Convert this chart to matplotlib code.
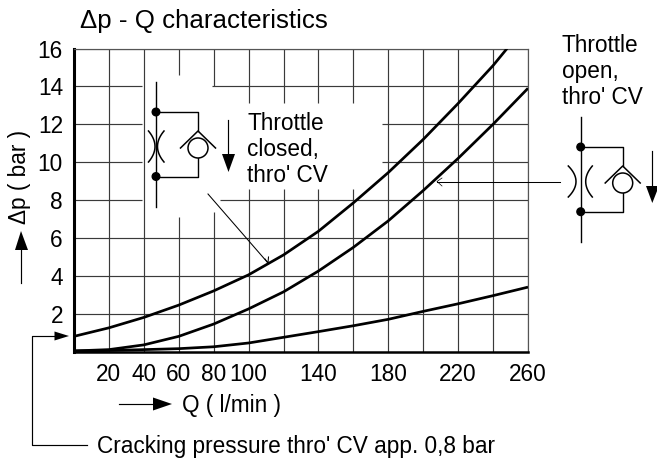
import matplotlib
matplotlib.use("Agg")
import matplotlib.pyplot as plt
from matplotlib.patches import Polygon, Circle
from matplotlib.lines import Line2D
from matplotlib.transforms import Affine2D

plt.rcParams['font.family'] = ['Liberation Sans', 'DejaVu Sans']
FS = 16.3

q_top = [0, 20, 40, 60, 80, 100, 120, 140, 160, 180, 200, 220, 240, 248]
dp_top = [0.8, 1.25, 1.8, 2.45, 3.2, 4.05, 5.1, 6.35, 7.85, 9.45, 11.2, 13.1, 15.1, 16.0]
q_mid = [0, 20, 40, 60, 80, 100, 120, 140, 160, 180, 200, 220, 240, 260]
dp_mid = [0.03, 0.1, 0.35, 0.8, 1.45, 2.25, 3.15, 4.25, 5.5, 6.9, 8.5, 10.2, 12.0, 13.9]
q_low = [0, 20, 40, 60, 80, 100, 120, 140, 160, 180, 200, 220, 240, 260]
dp_low = [0.03, 0.05, 0.1, 0.15, 0.25, 0.45, 0.75, 1.05, 1.36, 1.7, 2.12, 2.52, 2.95, 3.4]
x_ticks = [20, 40, 60, 80, 100, 140, 180, 220, 260]
y_ticks = [2, 4, 6, 8, 10, 12, 14, 16]
grid_x = list(range(20, 261, 20))
grid_y = list(range(2, 17, 2))
# gaps in the grid left for the inset symbols
v_gaps = {60: (7.1, 14.6), 80: (7.37, 14.0), 100: (8.58, 13.1), 120: (8.58, 13.1), 140: (8.58, 13.1), 160: (8.58, 13.1)}
h_gaps = {14: (39, 79), 12: (39, 176.5), 10: (39, 176.5), 8: (39, 83.7)}

fig = plt.figure(figsize=(6.57, 4.62), dpi=100)
ax = fig.add_axes([74/657, (462-351.5)/462, 454/657, 303/462])
ax.set_xlim(0, 260)
ax.set_ylim(0, 16)

GC = '#3a3a3a'
for x in grid_x:
    g = v_gaps.get(x)
    if g:
        ax.vlines([x, x], [0, g[1]], [g[0], 16], color=GC, lw=0.85, zorder=1)
    else:
        ax.vlines(x, 0, 16, color=GC, lw=0.85, zorder=1)
for y in grid_y:
    g = h_gaps.get(y)
    if g:
        ax.hlines([y, y], [0, g[1]], [g[0], 260], color=GC, lw=0.85, zorder=1)
    else:
        ax.hlines(y, 0, 260, color=GC, lw=0.85, zorder=1)

for qs, dps in ((q_top, dp_top), (q_mid, dp_mid), (q_low, dp_low)):
    ax.plot(qs, dps, color='black', lw=1.95, zorder=3, solid_capstyle='butt')

ax.set_xticks(x_ticks)
ax.set_yticks(y_ticks)
ax.tick_params(length=0, labelsize=FS)
ax.tick_params(axis='x', pad=8)
ax.tick_params(axis='y', pad=8)
for s in ('top', 'right'):
    ax.spines[s].set_linewidth(0.85)
    ax.spines[s].set_color('#555555')
ax.spines['left'].set_linewidth(2.2)
ax.spines['bottom'].set_linewidth(1.8)

# pixel coordinates, origin top-left
px = Affine2D().scale(1, -1).translate(0, 462)


def line(xs, ys, lw=0.85):
    fig.add_artist(Line2D(xs, ys, transform=px, color='black', lw=lw, zorder=5))


def head(pts):
    fig.add_artist(Polygon(pts, closed=True, transform=px, color='black', lw=0, zorder=5))


def label(x, y, s, size=FS, **kw):
    fig.text(x, y, s, transform=px, fontsize=size, color='black', **kw)


def arc3(p0, p1, p2):
    # three point open curve for a throttle side
    xs = []
    ys = []
    for i in range(21):
        t = i / 20
        xs.append((1-t)**2*p0[0] + 2*(1-t)*t*(2*p1[0]-(p0[0]+p2[0])/2) + t*t*p2[0])
        ys.append((1-t)**2*p0[1] + 2*(1-t)*t*(2*p1[1]-(p0[1]+p2[1])/2) + t*t*p2[1])
    line(xs, ys, lw=1.1)


def symbol(xv, xb, y_top, y_bot, y1, y2, yc, xl_o, xl_i, xr_i, xr_o, ya, yb, ym):
    line([xv, xv], [y_top, y_bot], lw=1.0)
    for yy in (y1, y2):
        fig.add_artist(Circle((xv, yy), 3.8, transform=px, color='black', zorder=5))
    line([xv, xb, xb], [y1, y1, yc-17], lw=1.0)
    line([xv, xb, xb], [y2, y2, yc+10], lw=1.0)
    fig.add_artist(Circle((xb, yc), 10, transform=px, fc='white', ec='black', lw=1.1, zorder=5))
    line([xb-17.5, xb, xb+17.5], [yc, yc-17, yc], lw=1.1)
    arc3((xl_o, ya), (xl_i, ym), (xl_o, yb))
    arc3((xr_o, ya), (xr_i, ym), (xr_o, yb))


symbol(156, 198, 82, 207, 112, 176.5, 148, 148.5, 155, 157.5, 164, 131, 162, 146.5)
symbol(580.7, 622.7, 117, 242, 147, 211.7, 183, 568.3, 576, 585.7, 592.3, 166, 197, 181.5)

# flow arrows
line([228.3, 228.3], [120, 156])
head([(222, 154), (235, 154), (228.5, 172)])
line([652.3, 652.3], [151, 188])
head([(646, 186), (659, 186), (652.3, 203)])
line([21, 21], [283, 248])
head([(15, 250), (28, 250), (21, 231)])
line([119, 155], [404, 404])
head([(153, 397.5), (153, 410.5), (172, 404)])

# leaders
line([208, 268], [194, 263], lw=0.75)
line([265, 268, 268.5], [259, 263, 257], lw=0.75)
line([560, 437], [181.5, 181.5], lw=0.75)
line([442, 437, 442], [178, 181.5, 186], lw=0.5)
line([87, 32, 32, 56], [445, 445, 336, 336])
head([(54.5, 331.5), (54.5, 340.5), (69, 336)])

# texts
label(80, 28, 'Δp - Q characteristics', size=18.6, va='baseline')
label(247, 130, 'Throttle', va='baseline')
label(247, 156, 'closed,', va='baseline')
label(247, 182, "thro' CV", va='baseline')
label(562, 52, 'Throttle', va='baseline')
label(562, 78, 'open,', va='baseline')
label(562, 104, "thro' CV", va='baseline')
label(182, 412, 'Q ( l/min )', va='baseline')
label(97, 453, "Cracking pressure thro' CV app. 0,8 bar", va='baseline')
label(20, 177, 'Δp ( bar )', rotation=90, va='center', ha='center')

fig.savefig('out.png', dpi=100)
